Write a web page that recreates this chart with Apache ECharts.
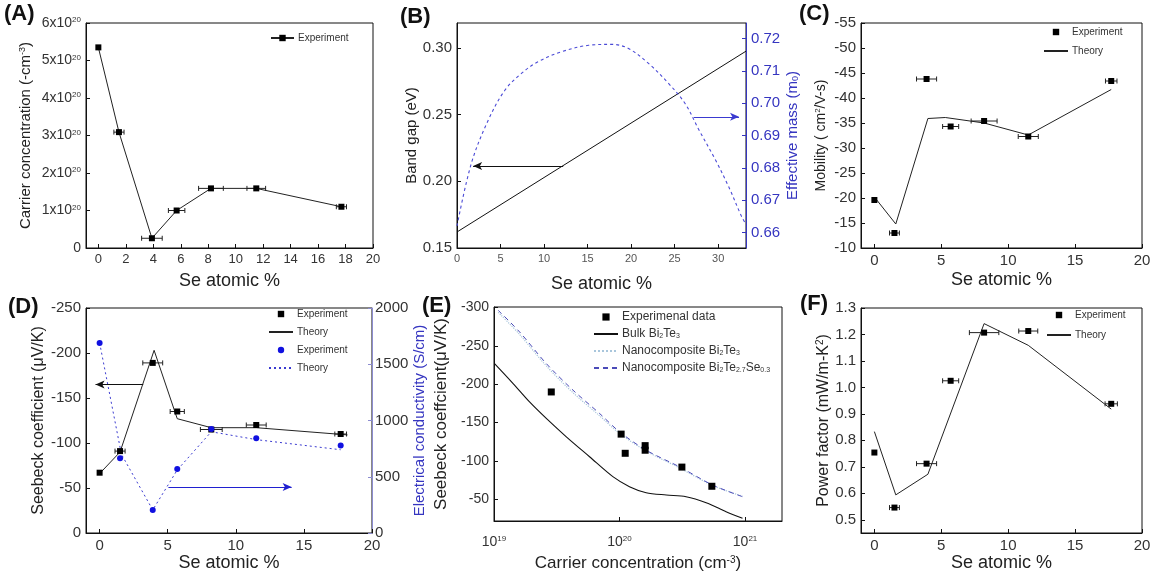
<!DOCTYPE html>
<html><head><meta charset="utf-8">
<script src="https://cdn.jsdelivr.net/npm/echarts@6/dist/echarts.min.js"></script>
<style>html,body{margin:0;padding:0;background:#fff}#c{width:1156px;height:579px}</style>
</head><body><div id="c"></div>
<script>
// ================= DATA =================
// Panel A: carrier concentration (x10^20 cm^-3) vs Se atomic %
const seA = [0, 1.5, 3.9, 5.7, 8.2, 11.5, 17.7];
const carrierA = [5.35, 3.09, 0.26, 1.0, 1.59, 1.59, 1.1];
const errA = [0, 0.37, 0.75, 0.6, 0.9, 0.68, 0.37];
const ticksA_x = [0, 2, 4, 6, 8, 10, 12, 14, 16, 18, 20];
const ticksA_y = [0, 1, 2, 3, 4, 5, 6];

// Panel B: band gap (eV) and effective mass (m0) vs Se atomic %
const bandX = [0, 33.2];
const bandY = [0.162, 0.2975];
const effX = [0, 1.65, 3.6, 5.5, 7.4, 9.3, 12, 15.1, 17.8, 19.7, 22, 24.3, 26.2, 27.8, 29.7, 31.2, 32.7, 33.2];
const effY = [0.662, 0.6814, 0.6948, 0.704, 0.7092, 0.7128, 0.7159, 0.7179, 0.7182, 0.7169, 0.7123, 0.7061, 0.6999, 0.6917, 0.6824, 0.6742, 0.6649, 0.6625];
const arrowB_gap = [[12.2, 0.2115], [1.85, 0.2115]];
const arrowB_mass = [[27.2, 0.6958], [32.4, 0.6958]];
const ticksB_x = [0, 5, 10, 15, 20, 25, 30];
const ticksB_y = [0.15, 0.20, 0.25, 0.30];
const ticksB_y2 = [0.66, 0.67, 0.68, 0.69, 0.70, 0.71, 0.72];

// Panel C: mobility
const seC = [0, 1.5, 3.9, 5.7, 8.2, 11.5, 17.7];
const mobC = [-19.6, -13.0, -43.8, -34.3, -35.4, -32.3, -43.4];
const errC = [0, 0.37, 0.75, 0.6, 0.97, 0.75, 0.43];
const thCX = [0, 1.6, 4.0, 5.3, 8.2, 11.5, 17.7];
const thCY = [-20.2, -14.8, -35.9, -36.1, -35.0, -32.6, -41.7];
const ticksSe = [0, 5, 10, 15, 20];
const ticksC_y = [-55, -50, -45, -40, -35, -30, -25, -20, -15, -10];

// Panel D: Seebeck coefficient & electrical conductivity
const seD = [0, 1.5, 3.9, 5.7, 8.2, 11.5, 17.7];
const seebD = [-67, -91, -189, -135, -115, -120, -110];
const errD = [0, 0.37, 0.73, 0.52, 0.8, 0.73, 0.43];
const thDX = [0, 1.5, 4.0, 5.7, 8.2, 11.5, 18.2];
const thDY = [-66, -90, -203, -127, -117, -117, -109];
const condD = [1690, 665, 205, 570, 925, 842, 777];
const thCondX = [0, 1.6, 3.9, 5.7, 8.2, 11.5, 17.7];
const thCondY = [1690, 700, 205, 560, 900, 830, 740];
const arrowD_seeb = [[3.2, -165], [-0.3, -165]];
const arrowD_cond = [[5.05, 408], [14.1, 408]];
const ticksD_y = [-250, -200, -150, -100, -50, 0];
const ticksD_y2 = [0, 500, 1000, 1500, 2000];

// Panel E: Seebeck vs carrier concentration (cm^-3)
const expEX = [2.86e19, 1.03e20, 1.11e20, 1.6e20, 1.6e20, 3.14e20, 5.44e20];
const expEY = [-190, -135, -110, -120, -114, -92, -67];
const bulkX = [1.01e19, 1.42e19, 1.92e19, 2.61e19, 3.77e19, 5.77e19, 8.85e19, 1.2e20, 1.63e20, 2.36e20, 3.39e20, 4.9e20, 7.06e20, 9.55e20];
const bulkY = [-227, -201, -177, -155.5, -131.5, -105.5, -79.5, -66.5, -58.6, -55.6, -53.4, -45.6, -33.9, -25.2];
const nanoSeX = [1.08e19, 1.6e19, 2.61e19, 4.26e19, 6.93e19, 1.0e20, 1.63e20, 3.0e20, 5.52e20, 9.55e20];
const nanoSeY = [-296.5, -268.2, -227, -192.3, -162, -138, -114, -92.4, -68.6, -53.4];
const nanoX = [1.08e19, 1.6e19, 2.61e19, 4.26e19, 6.93e19, 1.0e20, 1.63e20, 3.0e20, 5.52e20, 9.55e20];
const nanoY = [-294, -265, -224, -189, -159, -136, -113, -91, -68, -54];
const ticksE_x = [1e19, 1e20, 1e21];
const ticksE_y = [-300, -250, -200, -150, -100, -50];

// Panel F: power factor (mW/m-K^2)
const seF = [0, 1.5, 3.9, 5.7, 8.2, 11.5, 17.7];
const pfF = [0.754, 0.546, 0.712, 1.025, 1.207, 1.213, 0.938];
const errF = [0, 0.37, 0.75, 0.6, 1.1, 0.71, 0.46];
const thFX = [0, 1.6, 4.0, 8.2, 11.5, 17.7];
const thFY = [0.833, 0.594, 0.672, 1.241, 1.159, 0.918];
const ticksF_y = [0.5, 0.6, 0.7, 0.8, 0.9, 1.0, 1.1, 1.2, 1.3];

// ================= STYLE HELPERS =================
const FONT = '"Liberation Sans", Arial, sans-serif';
const BLUE = '#3535c0';
function isObj(o) { return o && typeof o === 'object' && !Array.isArray(o); }
function merge(a, b) {
  const r = Object.assign({}, a);
  for (const k in b) r[k] = (isObj(a[k]) && isObj(b[k])) ? merge(a[k], b[k]) : b[k];
  return r;
}
function richSet(color, size) {
  const s = Math.round(size * 0.6);
  return {
    sup: {fontSize: s, color: color, fontFamily: FONT, verticalAlign: 'top'},
    sub: {fontSize: s, color: color, fontFamily: FONT, verticalAlign: 'bottom'}
  };
}
function axis(grid, o, labelSize, nameSize, nameColor) {
  nameColor = nameColor || '#222';
  const base = {
    gridIndex: grid, type: 'value',
    axisLine: {show: true, onZero: false, lineStyle: {color: '#111', width: 1}},
    axisTick: {show: true, inside: true, length: 4, lineStyle: {color: '#111'}},
    axisLabel: {fontSize: labelSize, color: '#333', fontFamily: FONT, margin: 5, rich: richSet('#333', labelSize)},
    splitLine: {show: false},
    nameLocation: 'middle',
    nameTextStyle: {fontSize: nameSize, color: nameColor, fontFamily: FONT, rich: richSet(nameColor, nameSize)}
  };
  return merge(base, o);
}
function ticks(vals, fmt) {
  return {axisLabel: {customValues: vals, formatter: fmt || (v => String(v))}, axisTick: {customValues: vals}};
}
function errSeries(name, xi, yi, xs, ys, es, color) {
  return {
    type: 'custom', name: name, xAxisIndex: xi, yAxisIndex: yi, silent: true, z: 3,
    data: xs.map((x, i) => [x, ys[i], es[i]]),
    renderItem: function (params, api) {
      const x = api.value(0), y = api.value(1), e = api.value(2);
      if (!e) return null;
      const p1 = api.coord([x - e, y]), p2 = api.coord([x + e, y]);
      const h = 2.5, st = {stroke: color, lineWidth: 1};
      return {type: 'group', children: [
        {type: 'line', shape: {x1: p1[0], y1: p1[1], x2: p2[0], y2: p2[1]}, style: st},
        {type: 'line', shape: {x1: p1[0], y1: p1[1] - h, x2: p1[0], y2: p1[1] + h}, style: st},
        {type: 'line', shape: {x1: p2[0], y1: p2[1] - h, x2: p2[0], y2: p2[1] + h}, style: st}
      ]};
    }
  };
}
function pts(xs, ys) { return xs.map((x, i) => [x, ys[i]]); }
function arrow(a, color) {
  return {
    silent: true, symbol: ['none', 'arrow'], symbolSize: [6, 9],
    label: {show: false}, emphasis: {disabled: true},
    lineStyle: {color: color, type: 'solid', width: 1.2},
    data: [[{coord: a[0]}, {coord: a[1]}]]
  };
}
// markers only (line series with an invisible connecting line, so the legend shows a plain symbol)
function markers(name, xi, yi, data, symbol, size, color) {
  return {type: 'line', name: name, xAxisIndex: xi, yAxisIndex: yi, data: data,
    symbol: symbol, symbolSize: size, showSymbol: true, showAllSymbol: true,
    itemStyle: {color: color}, lineStyle: {opacity: 0, width: 0.01}, z: 5};
}
// plain line, no symbols (and no symbol in legend)
function curve(name, xi, yi, data, ls, extra) {
  return merge({type: 'line', name: name, xAxisIndex: xi, yAxisIndex: yi, data: data,
    showSymbol: false, symbol: 'none', itemStyle: {color: ls.color, opacity: 0}, lineStyle: ls}, extra || {});
}

// ================= GRIDS =================
const gridBox = {show: true, borderColor: '#111', borderWidth: 1, backgroundColor: 'transparent'};
const grids = [
  merge(gridBox, {left: 86, top: 23, width: 287, height: 225}),   // A
  merge(gridBox, {left: 457, top: 23, width: 289, height: 225}),  // B
  merge(gridBox, {left: 861, top: 23, width: 281, height: 225}),  // C
  merge(gridBox, {left: 86, top: 308, width: 286, height: 225}),  // D
  merge(gridBox, {left: 494, top: 307, width: 288, height: 214}), // E
  merge(gridBox, {left: 861, top: 308, width: 281, height: 225})  // F
];

const seName = 'Se atomic %';
const xAxes = [
  axis(0, merge({min: -0.9, max: 20, name: seName, nameGap: 24}, ticks(ticksA_x)), 13, 18),
  axis(1, merge({min: 0, max: 33.2, name: seName, nameGap: 27, axisLabel: {color: '#555'}}, ticks(ticksB_x)), 11, 18),
  axis(2, merge({min: -1, max: 20, name: seName, nameGap: 23}, ticks(ticksSe)), 15, 18),
  axis(3, merge({min: -1, max: 20, name: seName, nameGap: 18}, ticks(ticksSe)), 15, 18),
  axis(4, merge({type: 'log', logBase: 10, min: 1e19, max: 1.97e21, name: 'Carrier concentration (cm{sup|-3})', nameGap: 34,
    axisLabel: {margin: 14, formatter: v => {
      const l = Math.log10(v); return Math.abs(l - Math.round(l)) < 1e-6 ? '10{sup|' + Math.round(l) + '}' : '';
    }}}, {axisTick: {customValues: ticksE_x}, axisLabel: {customValues: ticksE_x}}), 14, 17),
  axis(5, merge({min: -1, max: 20, name: seName, nameGap: 18}, ticks(ticksSe)), 15, 18)
];

const yAxes = [
  axis(0, merge({min: 0, max: 6, name: 'Carrier concentration (-cm{sup|-3})', nameGap: 53, nameRotate: 90},
    ticks(ticksA_y, v => v === 0 ? '0' : v + 'x10{sup|20}')), 14, 15),
  axis(1, merge({min: 0.15, max: 0.3186, name: 'Band gap (eV)', nameGap: 37, nameRotate: 90},
    ticks(ticksB_y, v => v.toFixed(2))), 15, 15),
  axis(1, merge({position: 'right', min: 0.6552, max: 0.7248, name: 'Effective mass (m{sub|0})', nameGap: 39, nameRotate: 90,
    axisLine: {lineStyle: {color: BLUE}}, axisTick: {lineStyle: {color: BLUE}}, axisLabel: {color: BLUE}},
    ticks(ticksB_y2, v => v.toFixed(2))), 15, 15, BLUE),
  axis(2, merge({inverse: true, min: -55, max: -10, name: 'Mobility ( cm{sup|2}/V-s)', nameGap: 33, nameRotate: 90},
    ticks(ticksC_y)), 15, 14),
  axis(3, merge({inverse: true, min: -250, max: 0, name: 'Seebeck coefficient (\u03bcV/K)', nameGap: 37, nameRotate: 90},
    ticks(ticksD_y)), 15, 16),
  axis(3, merge({position: 'right', min: 0, max: 2000, name: 'Electrical conductivity (S/cm)', nameGap: 31, nameRotate: 90,
    axisLine: {lineStyle: {color: '#8c8cd0'}}, axisTick: {lineStyle: {color: '#8c8cd0'}}, axisLabel: {margin: 3}},
    ticks(ticksD_y2)), 15, 15, BLUE),
  axis(4, merge({inverse: true, min: -300.8, max: -21.7, name: 'Seebeck coeffcient(\u03bcV/K)', nameGap: 44, nameRotate: 90},
    ticks(ticksE_y)), 14, 17),
  axis(5, merge({min: 0.45, max: 1.3, name: 'Power factor (mW/m-K{sup|2})', nameGap: 27, nameRotate: 90},
    ticks(ticksF_y, v => v.toFixed(1))), 15, 16)
];

// ================= SERIES =================
const series = [
  // A
  errSeries('A err', 0, 0, seA, carrierA, errA, '#222'),
  {type: 'line', name: 'A exp', xAxisIndex: 0, yAxisIndex: 0, data: pts(seA, carrierA),
    symbol: 'rect', symbolSize: 6, itemStyle: {color: '#000'}, lineStyle: {color: '#222', width: 1}, z: 5},
  // B
  curve('B gap', 1, 1, pts(bandX, bandY), {color: '#111', width: 1}, {markLine: arrow(arrowB_gap, '#111')}),
  curve('B mass', 1, 2, pts(effX, effY), {color: '#4a4ad6', width: 1.1, type: [3, 3]}, {smooth: 0.35, markLine: arrow(arrowB_mass, '#3a3ad0')}),
  // C
  errSeries('C err', 2, 3, seC, mobC, errC, '#222'),
  markers('C exp', 2, 3, pts(seC, mobC), 'rect', 6, '#000'),
  curve('C th', 2, 3, pts(thCX, thCY), {color: '#222', width: 1}),
  // D
  errSeries('D err', 3, 4, seD, seebD, errD, '#222'),
  markers('D exp', 3, 4, pts(seD, seebD), 'rect', 6, '#000'),
  curve('D th', 3, 4, pts(thDX, thDY), {color: '#222', width: 1}, {markLine: arrow(arrowD_seeb, '#111')}),
  markers('D cexp', 3, 5, pts(seD, condD), 'circle', 6, '#1010e0'),
  curve('D cth', 3, 5, pts(thCondX, thCondY), {color: '#3a3ad0', width: 1, type: [2, 3]}, {markLine: arrow(arrowD_cond, '#2020d0')}),
  // E
  curve('E nano', 4, 6, pts(nanoX, nanoY), {color: '#a9c6dc', width: 1.2, type: 'dotted'}, {smooth: 0.3}),
  curve('E nanoSe', 4, 6, pts(nanoSeX, nanoSeY), {color: '#4b4bb8', width: 1, type: [5, 4]}, {smooth: 0.3}),
  curve('E bulk', 4, 6, pts(bulkX, bulkY), {color: '#111', width: 1.1}, {smooth: 0.3}),
  markers('E exp', 4, 6, pts(expEX, expEY), 'rect', 7, '#000'),
  // F
  errSeries('F err', 5, 7, seF, pfF, errF, '#222'),
  markers('F exp', 5, 7, pts(seF, pfF), 'rect', 6, '#000'),
  curve('F th', 5, 7, pts(thFX, thFY), {color: '#222', width: 1})
];

// ================= LEGENDS =================
const legendLabels = {
  'A exp': 'Experiment', 'C exp': 'Experiment', 'C th': 'Theory',
  'D exp': 'Experiment', 'D th': 'Theory', 'D cexp': 'Experiment', 'D cth': 'Theory',
  'E exp': 'Experimenal data', 'E bulk': 'Bulk Bi{sub|2}Te{sub|3}', 'E nano': 'Nanocomposite Bi{sub|2}Te{sub|3}',
  'E nanoSe': 'Nanocomposite Bi{sub|2}Te{sub|2.7}Se{sub|0.3}',
  'F exp': 'Experiment', 'F th': 'Theory'
};
function legend(names, left, top, gap, size, w, ih) {
  return {
    orient: 'vertical', left: left, top: top, itemGap: gap, itemWidth: w || 24, itemHeight: ih || 8,
    data: names, selectedMode: false, padding: 0,
    formatter: n => legendLabels[n],
    textStyle: {fontSize: size, color: '#333', fontFamily: FONT, padding: [0, 0, 0, -1], rich: richSet('#333', size)}
  };
}
const legends = [
  legend(['A exp'], 270, 33, 6, 10, 23, 8),
  legend(['C exp', 'C th'], 1043, 27, 9, 10, 24, 8),
  legend(['D exp', 'D th', 'D cexp', 'D cth'], 268, 309, 8, 10, 24, 8),
  legend(['E exp', 'E bulk', 'E nano', 'E nanoSe'], 593, 311, 5, 12, 24, 9),
  legend(['F exp', 'F th'], 1046, 310, 10, 10, 24, 8)
];

// ================= PANEL LABELS =================
const panelLabels = [['(A)', 4, 3], ['(B)', 400, 6], ['(C)', 799, 3], ['(D)', 8, 296], ['(E)', 422, 295], ['(F)', 800, 293]];
const graphic = panelLabels.map(p => ({
  type: 'text', left: p[1], top: p[2], z: 100,
  style: {text: p[0], font: 'bold 22px "Liberation Sans", Arial, sans-serif', fill: '#111'}
}));

const chart = echarts.init(document.getElementById('c'), null, {renderer: 'canvas'});
chart.setOption({
  animation: false,
  backgroundColor: '#fff',
  textStyle: {fontFamily: FONT},
  grid: grids, xAxis: xAxes, yAxis: yAxes, series: series, legend: legends, graphic: graphic
});
</script></body></html>
